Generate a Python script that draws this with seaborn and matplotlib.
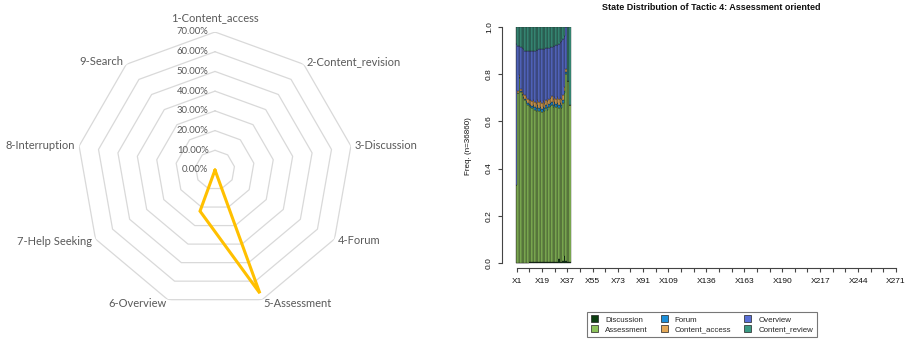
import numpy as np
import pandas as pd
import matplotlib
matplotlib.use("Agg")
import matplotlib.pyplot as plt
from matplotlib.patches import Patch
import seaborn as sns

# ---------------- radar: share of each action (%) ----------------
actions = ["1-Content_access", "2-Content_revision", "3-Discussion", "4-Forum",
           "5-Assessment", "6-Overview", "7-Help Seeking", "8-Interruption",
           "9-Search"]
action_share = [0.0, 0.0, 0.0, 0.0, 66.5, 22.2, 0.0, 0.0, 0.0]
ring_levels = [0, 10, 20, 30, 40, 50, 60, 70]

# ---------------- state distribution per sequence position ----------------
positions = list(range(1, 40))
discussion = [0.000, 0.002, 0.002, 0.002, 0.002, 0.002, 0.002, 0.002, 0.002, 0.003,
              0.003, 0.003, 0.003, 0.004, 0.004, 0.004, 0.004, 0.004, 0.004, 0.004,
              0.004, 0.004, 0.004, 0.005, 0.005, 0.005, 0.005, 0.005, 0.005, 0.006,
              0.018, 0.006, 0.006, 0.007, 0.028, 0.008, 0.006, 0.005, 0.004]
assessment = [0.330, 0.718, 0.783, 0.723, 0.708, 0.698, 0.688, 0.678, 0.668, 0.662,
              0.657, 0.652, 0.657, 0.646, 0.641, 0.651, 0.641, 0.646, 0.636, 0.646,
              0.641, 0.651, 0.646, 0.655, 0.660, 0.665, 0.655, 0.665, 0.655, 0.659,
              0.637, 0.659, 0.649, 0.673, 0.692, 0.792, 0.764, 0.765, 0.666]
forum = [0.000, 0.001, 0.002, 0.003, 0.004, 0.005, 0.006, 0.007, 0.008, 0.009,
         0.010, 0.010, 0.011, 0.012, 0.012, 0.013, 0.012, 0.013, 0.014, 0.013,
         0.012, 0.013, 0.012, 0.012, 0.011, 0.012, 0.011, 0.012, 0.013, 0.012,
         0.014, 0.012, 0.015, 0.012, 0.010, 0.008, 0.000, 0.000, 0.000]
content_access = [0.000, 0.006, 0.008, 0.010, 0.011, 0.012, 0.014, 0.015, 0.017, 0.018,
                  0.019, 0.020, 0.021, 0.022, 0.023, 0.022, 0.024, 0.023, 0.025, 0.024,
                  0.023, 0.024, 0.025, 0.023, 0.022, 0.024, 0.026, 0.023, 0.024, 0.025,
                  0.024, 0.022, 0.023, 0.020, 0.015, 0.012, 0.000, 0.000, 0.000]
overview = [0.600, 0.193, 0.125, 0.177, 0.185, 0.188, 0.190, 0.198, 0.203, 0.206,
            0.208, 0.213, 0.208, 0.216, 0.222, 0.213, 0.224, 0.219, 0.228, 0.218,
            0.228, 0.218, 0.223, 0.217, 0.217, 0.209, 0.223, 0.215, 0.228, 0.223,
            0.237, 0.236, 0.247, 0.238, 0.215, 0.180, 0.000, 0.000, 0.000]
content_review = [0.070, 0.080, 0.080, 0.085, 0.090, 0.095, 0.100, 0.100, 0.102, 0.102,
                  0.103, 0.102, 0.100, 0.100, 0.098, 0.097, 0.095, 0.095, 0.093, 0.095,
                  0.092, 0.090, 0.090, 0.088, 0.085, 0.085, 0.080, 0.080, 0.075, 0.075,
                  0.070, 0.065, 0.060, 0.050, 0.040, 0.000, 0.230, 0.230, 0.330]

states = ["Discussion", "Assessment", "Forum", "Content_access", "Overview",
          "Content_review"]
state_colors = ["#0D3F12", "#8CC25A", "#1C8FD9", "#E3A857", "#5A70D8", "#3A9A83"]
tick_positions = [1, 10, 19, 28, 37, 46, 55, 64, 73, 82, 91, 100, 109, 118, 127,
                  136, 145, 154, 163, 172, 181, 190, 199, 208, 217, 226, 235, 244,
                  253, 262, 271]
tick_labels = ["X1", "", "X19", "", "X37", "", "X55", "", "X73", "", "X91", "",
               "X109", "", "", "X136", "", "", "X163", "", "", "X190", "", "",
               "X217", "", "", "X244", "", "", "X271"]

sns.set_theme(style="white")
plt.rcParams["font.family"] = ["Liberation Sans", "DejaVu Sans"]

fig = plt.figure(figsize=(9.07, 3.40), dpi=100)
W, H = 907.0, 340.0
PX = 72.0 / 100.0  # points per pixel

# ---------------- left: radar chart ----------------
cx, cy, rad = 215, 170, 138
ax1 = fig.add_axes([(cx - rad) / W, (H - cy - rad) / H, 2 * rad / W, 2 * rad / H],
                   projection="polar")
ax1.set_theta_offset(np.pi / 2)
ax1.set_theta_direction(-1)
ax1.set_ylim(0, ring_levels[-1])
ax1.grid(False)
ax1.spines["polar"].set_visible(False)
ax1.set_xticks([])
ax1.set_yticks([])
ax1.patch.set_alpha(0)

theta = np.linspace(0, 2 * np.pi, len(actions), endpoint=False)
theta_closed = np.append(theta, theta[0] + 2 * np.pi)
for lvl in ring_levels[1:]:
    ax1.plot(theta_closed, [lvl] * len(theta_closed), color="#D9D9D9", lw=0.9,
             zorder=1)

radar_df = pd.DataFrame({"theta": theta_closed,
                         "share": action_share + [action_share[0]]})
sns.lineplot(data=radar_df, x="theta", y="share", sort=False, estimator=None,
             color="#FFC000", lw=2.2, ax=ax1, zorder=3)
line = ax1.lines[-1]
line.set_solid_joinstyle("miter")
ax1.set_xlabel("")
ax1.set_ylabel("")

label_font = ["Lato", "DejaVu Sans"]
for lvl in ring_levels:
    ax1.annotate(f"{lvl:.2f}%", xy=(0, lvl), xytext=(-6.5 * PX, 0),
                 textcoords="offset points", ha="right", va="center",
                 fontsize=6.8, color="#595959", family=label_font)

for th, name in zip(theta, actions):
    s, c = np.sin(th), np.cos(th)
    if abs(s) < 0.05:
        ha, off = "center", (0, 14)
    else:
        ha, off = ("left" if s > 0 else "right"), (4 * s, 4 * c)
    ax1.annotate(name, xy=(th, ring_levels[-1]),
                 xytext=(off[0] * PX, off[1] * PX), textcoords="offset points",
                 ha=ha, va="center", fontsize=8, color="#595959",
                 family=label_font)

# ---------------- right: state distribution plot ----------------
left_px, right_px, top_px, bottom_px = 502, 900, 27, 268
ax2 = fig.add_axes([left_px / W, (H - bottom_px) / H,
                    (right_px - left_px) / W, (bottom_px - top_px) / H])

series = [discussion, assessment, forum, content_access, overview, content_review]
rows = []
for state, vals in zip(states, series):
    for p, v in zip(positions, vals):
        rows.append((p, state, v))
dist_df = pd.DataFrame(rows, columns=["position", "state", "freq"])

palette = dict(zip(states, state_colors))
sns.histplot(data=dist_df, x="position", weights="freq", hue="state",
             hue_order=states[::-1], palette=palette, multiple="stack",
             discrete=True, shrink=1, alpha=1, edgecolor="#1a1a1a",
             linewidth=0.25, legend=False, ax=ax2)

px_per_pos = (896.0 - 516.7) / 270.0
ax2.set_xlim(1 - (516.7 - left_px) / px_per_pos, 1 + (right_px - 516.7) / px_per_pos)
ax2.set_ylim(-5.0 / 236.0, 1.0)
for side in ("top", "right"):
    ax2.spines[side].set_visible(False)
for side in ("left", "bottom"):
    ax2.spines[side].set_color("#444444")
    ax2.spines[side].set_linewidth(0.8)
ax2.spines["left"].set_bounds(0, 1)
ax2.spines["bottom"].set_bounds(1, 271)

ax2.set_xticks(tick_positions)
ax2.set_xticklabels(tick_labels)
ax2.set_yticks([0.0, 0.2, 0.4, 0.6, 0.8, 1.0])
ax2.set_yticklabels(["0.0", "0.2", "0.4", "0.6", "0.8", "1.0"], rotation=90,
                    va="center")
ax2.tick_params(axis="both", which="both", direction="out", length=4 * PX,
                width=0.8, color="#444444", labelsize=6, labelcolor="#111111",
                bottom=True, left=True)
ax2.tick_params(axis="x", pad=4.3)
ax2.tick_params(axis="y", pad=3.6)
ax2.set_xlabel("")
ax2.set_ylabel("Freq. (n=36860)", fontsize=5.8, color="#111111")
ax2.yaxis.set_label_coords((472 - left_px) / (right_px - left_px),
                           (bottom_px - 146) / (bottom_px - top_px))

fig.text(711 / W, 1 - 8 / H, "State Distribution of Tactic 4: Assessment oriented",
         ha="center", va="center", fontsize=6.5, fontweight="bold", color="#111111")

handles = [Patch(facecolor=c, edgecolor="#222222", linewidth=0.5)
           for c in state_colors]
leg = fig.legend(handles, states, ncol=3, loc="center",
                 bbox_to_anchor=(702 / W, 1 - 324.5 / H), fontsize=5.7,
                 frameon=True, fancybox=False, edgecolor="#555555",
                 handlelength=0.9, handleheight=0.9, handletextpad=0.9,
                 columnspacing=1.6, borderpad=0.5, labelspacing=0.25)
leg.get_frame().set_linewidth(0.8)

fig.savefig("out.png", dpi=100, facecolor="white")
